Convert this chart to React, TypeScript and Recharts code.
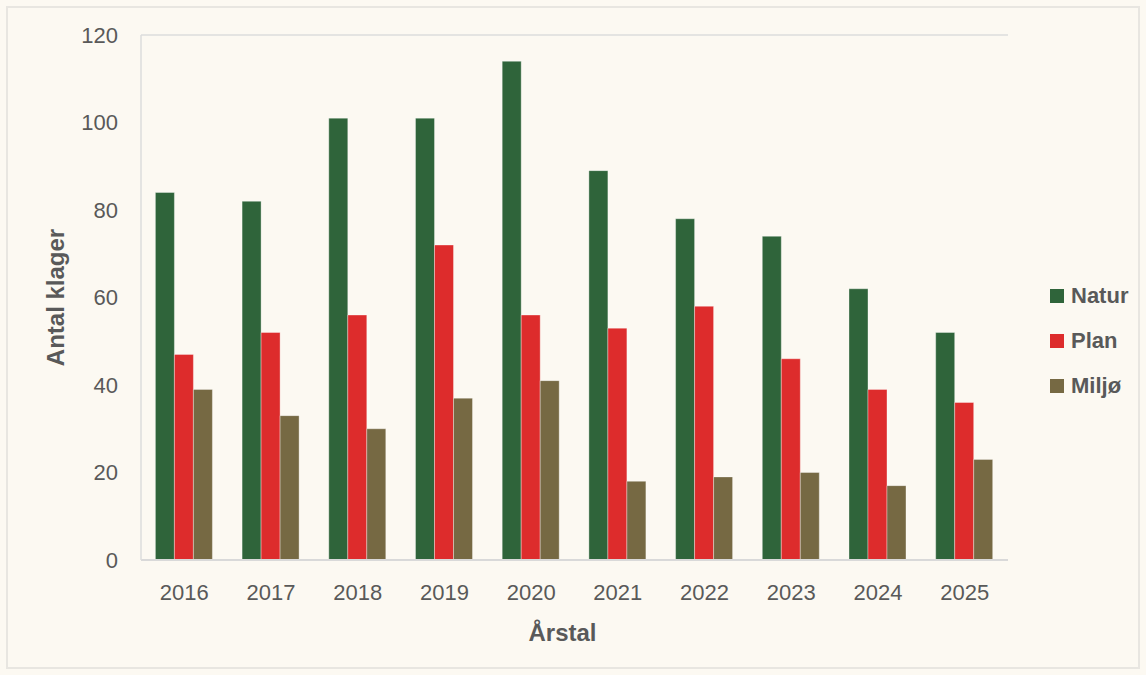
import React from "react";
import { BarChart, Bar, XAxis, YAxis, CartesianGrid, Legend, Label } from "recharts";

const years = ["2016", "2017", "2018", "2019", "2020", "2021", "2022", "2023", "2024", "2025"];
const natur = [84, 82, 101, 101, 114, 89, 78, 74, 62, 52];
const plan = [47, 52, 56, 72, 56, 53, 58, 46, 39, 36];
const miljo = [39, 33, 30, 37, 41, 18, 19, 20, 17, 23];
const yTicks = [0, 20, 40, 60, 80, 100, 120];

const seriesNames = ["Natur", "Plan", "Miljø"];
const colors = ["#2F643A", "#DD2C2C", "#766943"];

const data = years.map((y, i) => ({ year: y, Natur: natur[i], Plan: plan[i], "Miljø": miljo[i] }));

const FONT = "'Liberation Sans', Arial, sans-serif";
const TEXT = "#595959";

const LegendContent = () => (
  <div style={{ fontFamily: FONT }}>
    {seriesNames.map((n, i) => (
      <div key={n} style={{ display: "flex", alignItems: "center", height: 45 }}>
        <span style={{ width: 14, height: 14, background: colors[i], display: "inline-block", marginRight: 7 }} />
        <span style={{ fontSize: 22, fontWeight: 700, color: TEXT }}>{n}</span>
      </div>
    ))}
  </div>
);

export default function App() {
  return (
    <div style={{ position: "fixed", left: 0, top: 0, width: 1146, height: 675, background: "#FCF9F2" }}>
      <div style={{ position: "absolute", left: 6, top: 6, width: 1134, height: 663, border: "2px solid #E8E6E1", boxSizing: "border-box" }} />
      <div style={{ position: "absolute", left: 0, top: 0 }}>
        <BarChart
          width={1146}
          height={675}
          data={data}
          margin={{ top: 35, right: 138, bottom: 85, left: 0 }}
          barCategoryGap="16.6%"
          barGap={0}
        >
          <CartesianGrid vertical={false} stroke="#DCDCDC" strokeWidth={1.5} />
          <XAxis
            dataKey="year"
            height={30}
            tickLine={false}
            axisLine={{ stroke: "#D9D9D9", strokeWidth: 2 }}
            tick={{ fill: TEXT, fontSize: 22, fontFamily: FONT }}
            tickMargin={18}
          >
            <Label value="Årstal" position="insideBottom" offset={-51} dx={-12} style={{ fill: TEXT, fontSize: 24, fontWeight: 700, fontFamily: FONT }} />
          </XAxis>
          <YAxis
            yAxisId="left"
            width={141}
            domain={[0, 120]}
            ticks={yTicks}
            tickLine={false}
            axisLine={{ stroke: "#DCDCDC", strokeWidth: 1.5 }}
            tick={{ fill: TEXT, fontSize: 22, fontFamily: FONT }}
            tickMargin={17}
          >
            <Label value="Antal klager" angle={-90} position="insideLeft" offset={55} style={{ fill: TEXT, fontSize: 24, fontWeight: 700, fontFamily: FONT, textAnchor: "middle" }} />
          </YAxis>
          <YAxis
            yAxisId="right"
            orientation="right"
            width={0}
            domain={[0, 120]}
            tick={false}
            tickLine={false}
            axisLine={{ stroke: "#DCDCDC", strokeWidth: 1.5 }}
          />
          <Legend
            layout="vertical"
            verticalAlign="middle"
            align="center"
            content={<LegendContent />}
            wrapperStyle={{ position: "absolute", left: 1050, top: 273, width: 96 }}
          />
          {seriesNames.map((n, i) => (
            <Bar
              key={n}
              yAxisId="left"
              dataKey={n}
              fill={colors[i]}
              stroke="#ffffff"
              strokeOpacity={0.35}
              strokeWidth={1}
              isAnimationActive={false}
            />
          ))}
        </BarChart>
      </div>
    </div>
  );
}
